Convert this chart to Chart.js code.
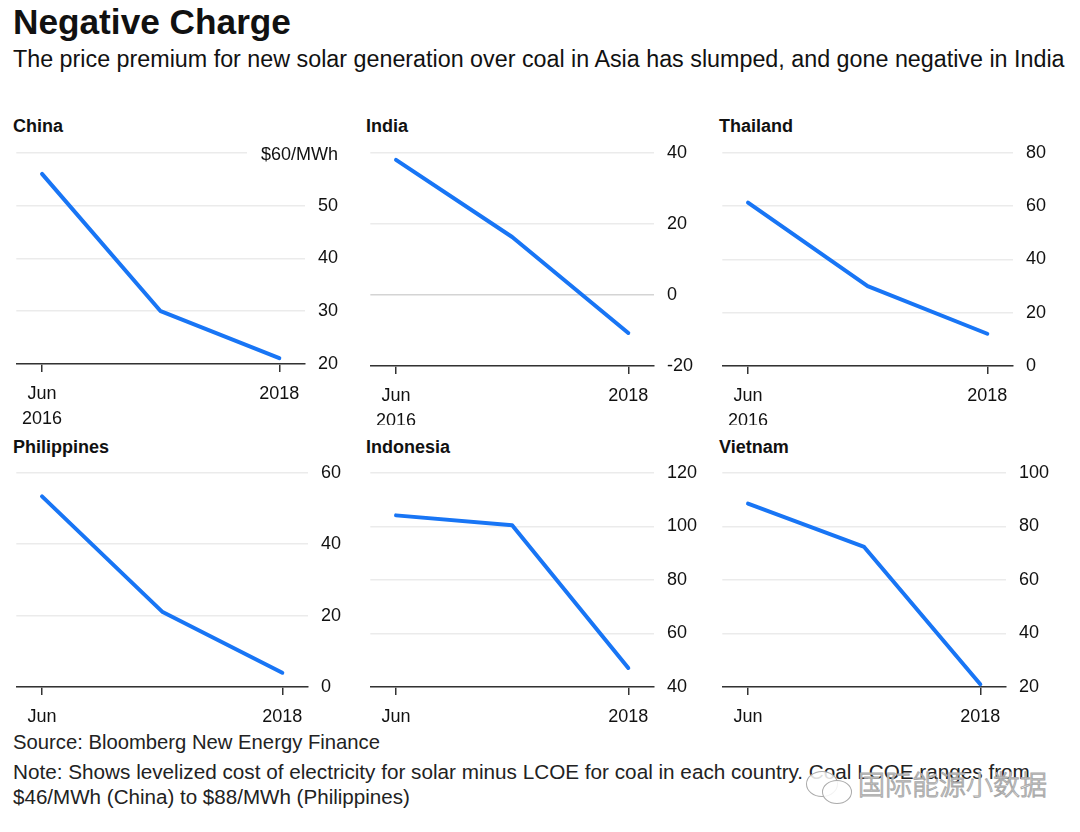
<!DOCTYPE html>
<html>
<head>
<meta charset="utf-8">
<script src="https://cdn.jsdelivr.net/npm/chart.js@4.4.0/dist/chart.umd.min.js"></script>
<style>
  html, body { margin: 0; padding: 0; background: #fff; }
  body { width: 1080px; height: 832px; position: relative; overflow: hidden;
         font-family: "Liberation Sans", Arial, sans-serif; color: #111; }
  .txt { position: absolute; left: 13px; white-space: nowrap; }
  .fit { display: inline-block; white-space: nowrap; }
  #title { top: 5px; font-size: 29px; line-height: 34px; font-weight: 700; }
  #subtitle { top: 47px; font-size: 20px; line-height: 24px; }
  .ptitle { position: absolute; font-size: 18px; line-height: 22px; font-weight: 700; }
  #source { top: 730px; font-size: 18px; line-height: 24px; color: #222; }
  #note { top: 760px; font-size: 18px; line-height: 24px; color: #222; }
  canvas { position: absolute; }
  #wm { position: absolute; left: 858px; top: 766px; font-size: 27px; line-height: 36px;
        font-family: "Noto Sans CJK SC", sans-serif; font-weight: 300; color: #fff;
        -webkit-text-stroke: 1px #a8a8a8; white-space: nowrap; }
  .bub { position: absolute; border: 1.5px solid #aaa; border-radius: 50%; background: rgba(255,255,255,0.85); }
</style>
</head>
<body>
<div class="txt" id="title"><span class="fit" data-w="278">Negative Charge</span></div>
<div class="txt" id="subtitle"><span class="fit" data-w="1052">The price premium for new solar generation over coal in Asia has slumped, and gone negative in India</span></div>

<div class="ptitle" style="left:13px;top:115px">China</div>
<div class="ptitle" style="left:366px;top:115px">India</div>
<div class="ptitle" style="left:719px;top:115px">Thailand</div>
<div class="ptitle" style="left:13px;top:436px">Philippines</div>
<div class="ptitle" style="left:366px;top:436px">Indonesia</div>
<div class="ptitle" style="left:719px;top:436px">Vietnam</div>

<canvas id="china"></canvas>
<canvas id="india"></canvas>
<canvas id="thailand"></canvas>
<canvas id="philippines"></canvas>
<canvas id="indonesia"></canvas>
<canvas id="vietnam"></canvas>

<div class="txt" id="source"><span class="fit" data-w="367">Source: Bloomberg New Energy Finance</span></div>
<div class="txt" id="note"><span class="fit" data-w="1017">Note: Shows levelized cost of electricity for solar minus LCOE for coal in each country. Coal LCOE ranges from</span><br><span class="fit" data-w="397">$46/MWh (China) to $88/MWh (Philippines)</span></div>

<div class="bub" style="left:806px;top:771px;width:30px;height:24px"></div>
<div class="bub" style="left:822px;top:780px;width:28px;height:22px"></div>
<div id="wm">国际能源小数据</div>

<script>
// ---------- data ----------
const periods = ['Jun 2016', '2017', '2018'];
const xTickLabels = [['Jun', '2016'], '', '2018'];

const china = [56, 30, 21.1];
const india = [38, 16.3, -10.7];
const thailand = [61.3, 30, 12.1];
const philippines = [53.4, 21.1, 4];
const indonesia = [104.1, 100.4, 47.1];
const vietnam = [88.5, 72.3, 21];

const chinaTicks = [20, 30, 40, 50, 60];
const indiaTicks = [-20, 0, 20, 40];
const thailandTicks = [0, 20, 40, 60, 80];
const philippinesTicks = [0, 20, 40, 60];
const indonesiaTicks = [40, 60, 80, 100, 120];
const vietnamTicks = [20, 40, 60, 80, 100];

// ---------- style ----------
const LINE = 'rgb(24,117,245)';
const GRID = '#ebebeb';
const AXIS = '#333';
const FONT = '"Liberation Sans", Arial, sans-serif';
const EDGE = 26;      // px between plot edge and first/last point
const AXIS_W = 50;    // right axis width

// fit header/footer lines to the measured widths
document.querySelectorAll('.fit').forEach(el => {
  const w = el.getBoundingClientRect().width;
  const size = parseFloat(getComputedStyle(el).fontSize);
  el.style.fontSize = (size * el.dataset.w / w).toFixed(2) + 'px';
});

// unit label drawn on the top gridline (China only)
const unitLabel = {
  id: 'unitLabel',
  afterDraw(chart, args, opts) {
    if (!opts.text) return;
    const y = chart.scales.y;
    const ctx = chart.ctx;
    const py = y.getPixelForValue(y.max);
    ctx.save();
    ctx.font = '18px ' + FONT;
    const right = y.left + y.options.ticks.padding + ctx.measureText('50').width;
    const w = ctx.measureText(opts.text).width;
    ctx.fillStyle = '#111';
    ctx.textAlign = 'right';
    ctx.textBaseline = 'middle';
    ctx.fillText(opts.text, right, py + 2);
    ctx.strokeStyle = GRID;
    ctx.lineWidth = 1.5;
    ctx.beginPath();
    ctx.moveTo(chart.chartArea.left, py);
    ctx.lineTo(right - w - 14, py);
    ctx.stroke();
    ctx.restore();
  }
};

function makeChart(id, values, yTicks, box, unit) {
  const cv = document.getElementById(id);
  let top = box.gridTop - 22;
  let h = box.clip - top;
  cv.width = box.plotW + AXIS_W;
  cv.height = h;
  cv.style.left = box.left + 'px';
  cv.style.top = top + 'px';
  let xAxisH = h - 22 - box.plotH;
  const unitPx = (box.plotW - 2 * EDGE) / (periods.length - 1);
  const yMin = yTicks[0], yMax = yTicks[yTicks.length - 1];

  const chart = new Chart(cv, {
    type: 'line',
    data: {
      datasets: [{
        label: id,
        data: values.map((v, i) => ({ x: i, y: v })),
        borderColor: LINE,
        borderWidth: 4,
        pointRadius: 0,
        tension: 0,
        borderCapStyle: 'round',
        borderJoinStyle: 'round',
        clip: false
      }]
    },
    options: {
      responsive: false,
      animation: false,
      devicePixelRatio: 1,
      layout: { padding: 0 },
      plugins: { legend: { display: false }, tooltip: { enabled: false }, unitLabel: { text: unit } },
      scales: {
        x: {
          type: 'linear',
          min: -EDGE / unitPx,
          max: periods.length - 1 + EDGE / unitPx,
          afterBuildTicks: s => { s.ticks = [{ value: 0 }, { value: periods.length - 1 }]; },
          afterFit: s => { s.height = xAxisH; },
          grid: { drawOnChartArea: false, drawTicks: true, tickLength: 8, color: AXIS, lineWidth: 1.5 },
          border: { display: true, color: AXIS, width: 1.5 },
          ticks: {
            autoSkip: false, maxRotation: 0, padding: 9, color: '#111',
            font: { family: FONT, size: 18, lineHeight: 1.4 },
            callback: v => xTickLabels[v]
          }
        },
        y: {
          position: 'right',
          min: yMin,
          max: yMax,
          afterBuildTicks: s => { s.ticks = yTicks.map(v => ({ value: v })); },
          afterFit: s => { s.width = AXIS_W; },
          grid: {
            drawTicks: false, lineWidth: 1.5,
            color: c => (unit && c.tick.value === yMax) ? 'rgba(0,0,0,0)' : (c.tick.value === 0 ? '#d4d4d4' : GRID)
          },
          border: { display: false },
          ticks: {
            padding: 13, color: '#111',
            font: { family: FONT, size: 18 },
            callback: v => (unit && v === yMax) ? '' : String(v)
          }
        }
      }
    },
    plugins: [unitLabel]
  });

  // the y labels reserve room above the plot; move the canvas so the top gridline lands at gridTop
  const t = chart.chartArea.top;
  if (Math.abs(t - 22) > 0.5) {
    top = Math.round(box.gridTop - t);
    h = box.clip - top;
    xAxisH = h - t - box.plotH;
    cv.style.top = top + 'px';
    chart.resize(box.plotW + AXIS_W, h);
  }
}

makeChart('china', china, chinaTicks, { left: 13, gridTop: 153, plotW: 292, plotH: 213, clip: 427 }, '$60/MWh');
makeChart('india', india, indiaTicks, { left: 367, gridTop: 153, plotW: 287, plotH: 215, clip: 427 });
makeChart('thailand', thailand, thailandTicks, { left: 719, gridTop: 153, plotW: 294, plotH: 215, clip: 427 });
makeChart('philippines', philippines, philippinesTicks, { left: 13, gridTop: 473, plotW: 295, plotH: 216, clip: 730 });
makeChart('indonesia', indonesia, indonesiaTicks, { left: 367, gridTop: 473, plotW: 287, plotH: 216, clip: 730 });
makeChart('vietnam', vietnam, vietnamTicks, { left: 719, gridTop: 473, plotW: 287, plotH: 216, clip: 730 });
</script>
</body>
</html>
